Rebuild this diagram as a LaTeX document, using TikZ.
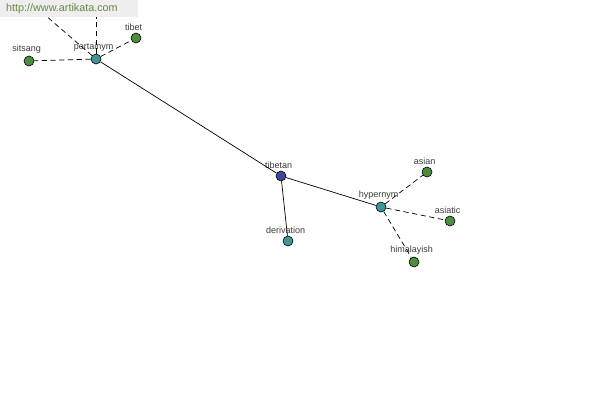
\documentclass[tikz,border=0pt]{standalone}
\usepackage{fontspec}
\setmainfont{Liberation Sans}
\usetikzlibrary{positioning}
\definecolor{relnode}{RGB}{62,150,150}
\definecolor{rootnode}{RGB}{60,72,160}
\definecolor{leafnode}{RGB}{78,140,62}
\definecolor{labelgray}{RGB}{60,60,60}
\definecolor{bannerbg}{RGB}{238,238,238}
\definecolor{bannertext}{RGB}{110,135,70}

\begin{document}
\begin{tikzpicture}[
  x=0.03cm, y=-0.03cm,
  every node/.style={font=\fontsize{7.7}{9}\selectfont},
  every label/.style={text=labelgray, xshift=-2pt, inner sep=2pt},
  word/.style={circle, draw, line width=0.5pt, minimum size=0.3cm, inner sep=0pt},
  rootword/.style={word, fill=rootnode},
  relword/.style={word, fill=relnode},
  leafword/.style={word, fill=leafnode},
  link/.style={line width=0.6pt},
  dlink/.style={line width=0.6pt, dash pattern=on 4.5pt off 3pt}
]
  \useasboundingbox[fill=white] (0,0) rectangle (600,400);

  \node[rootword, label=above:tibetan] (tibetan) at (281,176) {};
  \node[relword, label=above:pertainym] (pertainym) at (96,59) {};
  \node[relword, label=above:hypernym] (hypernym) at (381,207) {};
  \node[relword, label=above:derivation] (derivation) at (288,241) {};
  \node[leafword, label=above:tibet] (tibet) at (136,38) {};
  \node[leafword, label=above:sitsang] (sitsang) at (29,61) {};
  \node[leafword, label=above:asian] (asian) at (427,172) {};
  \node[leafword, label=above:asiatic] (asiatic) at (450,221) {};
  \node[leafword, label=above:himalayish] (himalayish) at (414,262) {};

  % ends that leave the picture
  \coordinate (offa) at (16,-10);
  \coordinate (offb) at (96,-10);

  \draw[link] (tibetan) -- (pertainym);
  \draw[link] (tibetan) -- (hypernym);
  \draw[link] (tibetan) -- (derivation);
  \draw[dlink] (pertainym) -- (tibet);
  \draw[dlink] (pertainym) -- (sitsang);
  \draw[dlink] (pertainym) -- (offa);
  \draw[dlink] (pertainym) -- (offb);
  \draw[dlink] (hypernym) -- (asian);
  \draw[dlink] (hypernym) -- (asiatic);
  \draw[dlink] (hypernym) -- (himalayish);

  \node[anchor=north west, fill=bannerbg, text=bannertext, minimum width=4.14cm,
        minimum height=0.51cm, inner sep=0pt, text width=3.78cm,
        font=\fontsize{9.2}{10}\selectfont] (banner) at (0,0) {http://www.artikata.com};
\end{tikzpicture}
\end{document}
